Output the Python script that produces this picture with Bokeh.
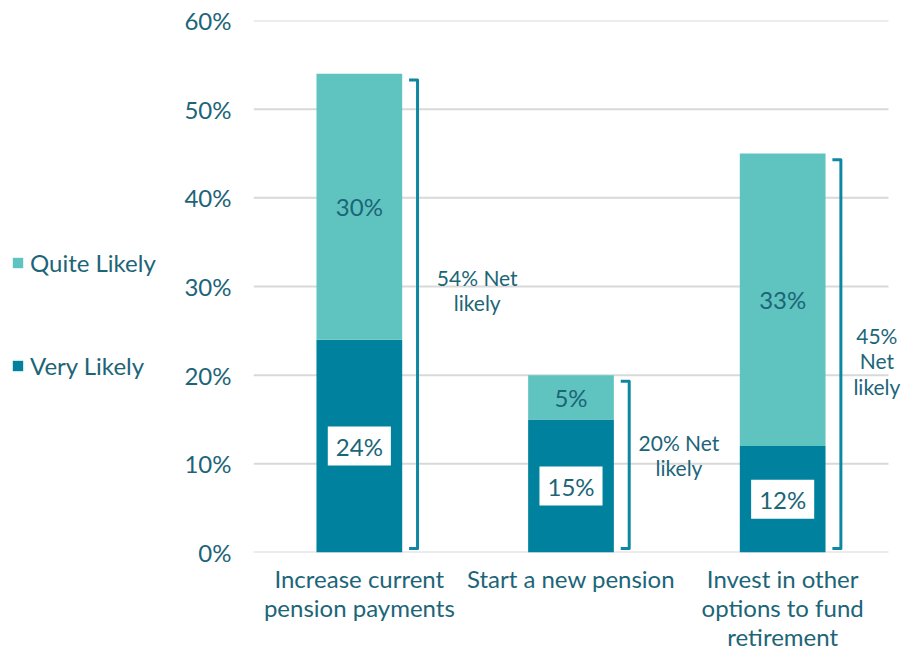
from bokeh.plotting import figure
from bokeh.layouts import row
from bokeh.models import Range1d, FixedTicker, Label, Legend, LegendItem, ColumnDataSource
from bokeh.embed import file_html
from bokeh.resources import INLINE

# ---- data ----
categories = ["Increase current pension payments", "Start a new pension",
              "Invest in other options to fund retirement"]
tick_labels = ["Increase current\npension payments", "Start a new pension",
               "Invest in other\noptions to fund\nretirement"]
series = ["Very Likely", "Quite Likely"]
very_likely = [24, 15, 12]
quite_likely = [30, 5, 33]
net_likely = [54, 20, 45]
net_labels = ["54% Net\nlikely", "20% Net\nlikely", "45%\nNet\nlikely"]
y_ticks = [0, 10, 20, 30, 40, 50, 60]

# ---- style ----
FONT = "Lato"
TXT = "#1c6578"
DARK = "#00829e"
LIGHT = "#5fc4c0"
BRACKET = "#0f87a3"
GRID = "#d9d9d9"
net_offsets = [(0.557, 2.6), (0.51, 1.0), (0.445, -0.9)]  # (dx, dy) label placement

H = 653
LW = 170            # legend figure width
W = 901 - LW        # main figure width
LEFT, RIGHT, TOP, BOTTOM = 253 - LW, 0, 20, 100
n = len(categories)
xs = [i + 0.5 for i in range(n)]
frame_w = W - LEFT - RIGHT
x_end = n * frame_w / 635.0

src = ColumnDataSource(dict(x=xs, very=very_likely, quite=quite_likely))

p = figure(width=W, height=H, x_range=Range1d(0, x_end), y_range=Range1d(0, 60),
           output_backend="svg", toolbar_location=None,
           min_border_left=LEFT, min_border_right=RIGHT, min_border_top=TOP,
           min_border_bottom=BOTTOM)
p.outline_line_color = None
p.xgrid.grid_line_color = None
p.ygrid.grid_line_color = None

# horizontal gridlines spanning the categories
p.segment(x0=[0] * len(y_ticks), x1=[n] * len(y_ticks), y0=y_ticks, y1=y_ticks,
          line_color=GRID, line_width=2)

rs = p.vbar_stack(["very", "quite"], x="x", width=0.405, color=[DARK, LIGHT], source=src,
                  line_color=None)

# axes
p.xaxis.ticker = FixedTicker(ticks=xs)
p.xaxis.major_label_overrides = {x: t for x, t in zip(xs, tick_labels)}
p.yaxis.ticker = FixedTicker(ticks=y_ticks)
p.yaxis.major_label_overrides = {t: f"{t}%" for t in y_ticks}
for ax in (p.xaxis[0], p.yaxis[0]):
    ax.axis_line_color = None
    ax.major_tick_line_color = None
    ax.minor_tick_line_color = None
    ax.major_tick_out = 0
    ax.major_tick_in = 0
    ax.minor_tick_out = 0
    ax.major_label_text_font = FONT
    ax.major_label_text_font_size = "24px"
    ax.major_label_text_color = TXT
p.xaxis.major_label_text_line_height = 1.0
p.xaxis.major_label_standoff = 11
p.yaxis.major_label_standoff = 22

# brackets
bx, by = [], []
for x, t in zip(xs, net_likely):
    bx.append([x + 0.235, x + 0.275, x + 0.275, x + 0.235])
    by.append([t - 0.7, t - 0.7, 0.45, 0.45])
p.multi_line(bx, by, line_color=BRACKET, line_width=3, line_join="round")

# segment labels
for x, v, q in zip(xs, very_likely, quite_likely):
    p.add_layout(Label(x=x, y=v / 2, text=f"{v}%", text_align="center", text_baseline="middle",
                       text_font=FONT, text_font_size="24px", text_color=TXT,
                       background_fill_color="white", padding=(8, 5)))
    p.add_layout(Label(x=x, y=v + q / 2, text=f"{q}%", text_align="center", text_baseline="middle",
                       text_font=FONT, text_font_size="24px", text_color=TXT))

# net labels
for x, t, lab, (dx, dy) in zip(xs, net_likely, net_labels, net_offsets):
    p.add_layout(Label(x=x + dx, y=t / 2 + dy, text=lab, text_align="center",
                       text_baseline="middle", text_font=FONT, text_font_size="21px",
                       text_color=TXT, text_line_height=1.03))

# ---- legend panel (separate figure on the left) ----
lp = figure(width=LW, height=H, x_range=Range1d(0, 1), y_range=Range1d(0, 1),
            output_backend="svg", toolbar_location=None, min_border=0)
lp.axis.visible = False
lp.grid.visible = False
lp.outline_line_color = None
lr = {s: lp.vbar(x=[0.5], top=[0], bottom=[0], width=0.1, color=c, line_color=None)
      for s, c in zip(series, [DARK, LIGHT])}
legend = Legend(items=[LegendItem(label=s, renderers=[lr[s]]) for s in series[::-1]],
                location=(11, 172), padding=0, margin=0, spacing=74,
                glyph_width=13, glyph_height=13, label_standoff=6,
                label_text_font=FONT, label_text_font_size="24px", label_text_color=TXT,
                border_line_color=None, background_fill_alpha=0)
lp.add_layout(legend, "center")

layout = row(lp, p, spacing=0)
open("out.html", "w").write(file_html(layout, INLINE))
